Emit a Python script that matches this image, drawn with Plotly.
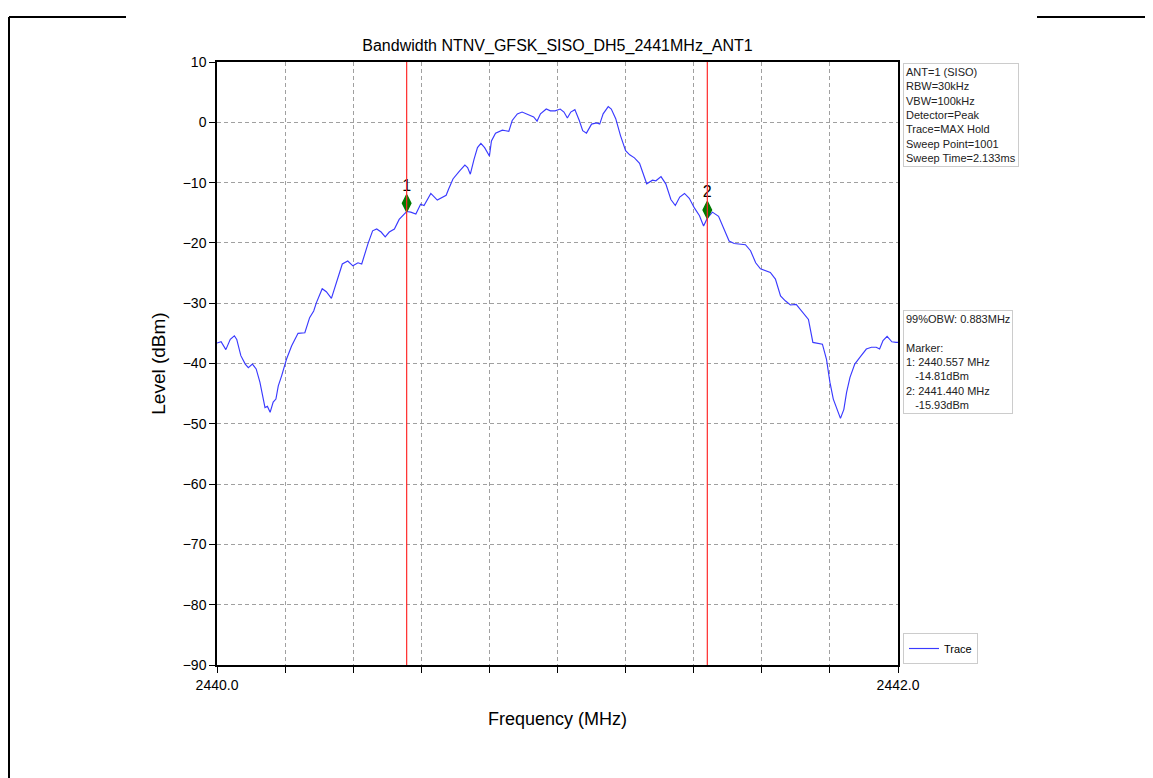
import plotly.graph_objects as go

# ---------------- data ----------------
freq_mhz = [
    2440.000, 2440.012, 2440.026, 2440.039, 2440.051, 2440.058, 2440.070, 2440.083, 2440.092, 2440.104,
    2440.115, 2440.126, 2440.141, 2440.148, 2440.156, 2440.165, 2440.173, 2440.180, 2440.190, 2440.204,
    2440.219, 2440.238, 2440.258, 2440.272, 2440.284, 2440.292, 2440.309, 2440.321, 2440.336, 2440.350,
    2440.368, 2440.384, 2440.399, 2440.414, 2440.425, 2440.443, 2440.457, 2440.469, 2440.482, 2440.494,
    2440.506, 2440.521, 2440.535, 2440.557, 2440.569, 2440.584, 2440.598, 2440.608, 2440.628, 2440.647,
    2440.662, 2440.673, 2440.680, 2440.693, 2440.712, 2440.728, 2440.736, 2440.744, 2440.755, 2440.765,
    2440.775, 2440.786, 2440.800, 2440.806, 2440.818, 2440.828, 2440.838, 2440.848, 2440.857, 2440.867,
    2440.882, 2440.896, 2440.916, 2440.930, 2440.940, 2440.950, 2440.967, 2440.979, 2440.993, 2441.008,
    2441.019, 2441.029, 2441.039, 2441.051, 2441.064, 2441.074, 2441.085, 2441.100, 2441.115, 2441.124,
    2441.134, 2441.149, 2441.158, 2441.171, 2441.185, 2441.200, 2441.212, 2441.226, 2441.241, 2441.251,
    2441.262, 2441.279, 2441.289, 2441.304, 2441.318, 2441.333, 2441.346, 2441.359, 2441.373, 2441.387,
    2441.402, 2441.417, 2441.429, 2441.440, 2441.455, 2441.473, 2441.490, 2441.504, 2441.519, 2441.533,
    2441.552, 2441.567, 2441.582, 2441.596, 2441.613, 2441.625, 2441.640, 2441.655, 2441.669, 2441.684,
    2441.701, 2441.713, 2441.725, 2441.737, 2441.750, 2441.764, 2441.778, 2441.790, 2441.800, 2441.810,
    2441.820, 2441.831, 2441.841, 2441.849, 2441.859, 2441.873, 2441.888, 2441.907, 2441.922, 2441.936,
    2441.946, 2441.956, 2441.968, 2441.982, 2441.994, 2442.000,
]
level_dbm = [
    -36.6, -36.4, -37.7, -36.0, -35.4, -36.0, -38.7, -40.1, -40.7, -40.1,
    -40.9, -43.1, -47.3, -47.1, -48.1, -46.4, -45.9, -43.7, -42.0, -39.3,
    -37.1, -35.0, -34.9, -32.4, -31.3, -29.9, -27.6, -28.1, -29.2, -26.6,
    -23.5, -23.0, -23.8, -23.3, -23.5, -20.2, -18.0, -17.7, -18.2, -19.0,
    -18.2, -17.7, -16.1, -14.8, -14.9, -15.2, -13.6, -13.8, -11.8, -12.9,
    -12.5, -12.1, -11.1, -9.4, -8.1, -7.1, -7.5, -8.6, -6.1, -4.2,
    -3.5, -4.2, -5.6, -3.1, -1.8, -1.5, -1.3, -1.4, -1.5, 0.3,
    1.4, 1.7, 1.3, 0.9, 0.2, 1.4, 2.2, 1.9, 1.9, 2.2,
    1.7, 0.7, 1.7, 2.1, 0.3, -1.4, -1.8, -0.3, -0.1, -0.3,
    1.4, 2.6, 2.2, 0.6, -2.2, -4.7, -5.4, -5.9, -6.8, -8.6,
    -10.2, -9.6, -9.7, -9.0, -10.2, -12.8, -13.8, -12.4, -11.8, -12.6,
    -14.2, -15.5, -17.2, -15.9, -14.9, -15.6, -18.0, -19.7, -20.1, -20.2,
    -20.3, -21.3, -23.3, -24.3, -24.6, -24.9, -26.0, -28.8, -29.6, -30.3,
    -30.2, -31.0, -31.8, -32.7, -36.5, -36.6, -36.8, -39.3, -43.1, -45.9,
    -47.6, -49.1, -47.6, -44.8, -42.3, -40.1, -39.0, -37.6, -37.3, -37.3,
    -37.6, -36.2, -35.5, -36.4, -36.5, -36.5,
]

marker_labels = ["1", "2"]
marker_freq = [2440.557, 2441.440]
marker_level = [-14.81, -15.93]
marker_offset_db = 1.4

obw_mhz = 0.883

x_tick_vals = [2440.0, 2440.2, 2440.4, 2440.6, 2440.8, 2441.0, 2441.2, 2441.4, 2441.6, 2441.8, 2442.0]
x_tick_text = ["2440.0", "", "", "", "", "", "", "", "", "", "2442.0"]
y_tick_vals = [10, 0, -10, -20, -30, -40, -50, -60, -70, -80, -90]
y_tick_text = ["10", "0", "\u221210", "\u221220", "\u221230", "\u221240", "\u221250",
               "\u221260", "\u221270", "\u221280", "\u221290"]

settings_lines = ["ANT=1 (SISO)", "RBW=30kHz", "VBW=100kHz", "Detector=Peak",
                  "Trace=MAX Hold", "Sweep Point=1001", "Sweep Time=2.133ms"]

title_text = "Bandwidth NTNV_GFSK_SISO_DH5_2441MHz_ANT1"

# ---------------- figure ----------------
OFF = 8                      # page body margin in the browser
W, H = 1153 - OFF, 778 - OFF
# plot area in page pixels
PL, PR, PT, PB = 217, 898, 62, 665
L, R, T, B = PL - OFF, PR - OFF, PT - OFF, PB - OFF
FONT = "Liberation Sans, Arial, sans-serif"

def px_x(p):
    return (p - PL) / (PR - PL)

def px_y(p):
    return (PB - p) / (PB - PT)

fig = go.Figure()

fig.add_trace(go.Scatter(
    x=freq_mhz, y=level_dbm, mode="lines", name="Trace",
    line=dict(color="#3a3aff", width=1.15), showlegend=True,
))

fig.add_trace(go.Scatter(
    x=marker_freq, y=[v + marker_offset_db for v in marker_level],
    mode="markers+text", text=marker_labels, textposition="top center",
    textfont=dict(family=FONT, size=16, color="black"),
    marker=dict(symbol="diamond-tall", size=12, color="#007a00",
                line=dict(color="#007a00", width=1.5)),
    showlegend=False, cliponaxis=False,
))

shapes = []
for f in marker_freq:
    shapes.append(dict(type="line", xref="x", yref="paper", x0=f, x1=f, y0=0, y1=1,
                       line=dict(color="#ff2a2a", width=1.2), layer="above"))

# page border lines
bw = dict(color="black", width=2)
shapes.append(dict(type="line", xref="paper", yref="paper",
                   x0=px_x(9), x1=px_x(9), y0=px_y(17), y1=px_y(790), line=bw))
shapes.append(dict(type="line", xref="paper", yref="paper",
                   x0=px_x(9), x1=px_x(126), y0=px_y(17), y1=px_y(17), line=bw))
shapes.append(dict(type="line", xref="paper", yref="paper",
                   x0=px_x(1037), x1=px_x(1160), y0=px_y(17), y1=px_y(17), line=bw))

marker_lines = "<br>".join(
    f"{lab}: {f:.3f} MHz<br>&nbsp;&nbsp;&nbsp;{v:.2f}dBm"
    for lab, f, v in zip(marker_labels, marker_freq, marker_level)
)
box2_text = f"99%OBW: {obw_mhz:.3f}MHz<br> <br>Marker:<br>" + marker_lines

annotations = [
    dict(xref="paper", yref="paper", x=px_x(903), y=px_y(63), xanchor="left", yanchor="top",
         text="<br>".join(settings_lines), showarrow=False, align="left",
         font=dict(family=FONT, size=11, color="#222"),
         bordercolor="#cccccc", borderwidth=1, borderpad=2, bgcolor="white"),
    dict(xref="paper", yref="paper", x=px_x(903), y=px_y(310), xanchor="left", yanchor="top",
         text=box2_text, showarrow=False, align="left",
         font=dict(family=FONT, size=11, color="#222"),
         bordercolor="#cccccc", borderwidth=1, borderpad=2, bgcolor="white"),
]

grid = dict(showgrid=True, gridcolor="#a0a0a0", gridwidth=0.8, griddash="4px,3px")

fig.update_layout(
    width=W, height=H,
    margin=dict(l=L, r=W - R, t=T, b=H - B, autoexpand=False),
    paper_bgcolor="white", plot_bgcolor="white",
    font=dict(family=FONT, size=13, color="black"),
    title=dict(text=title_text, x=0.5, xref="paper", xanchor="center",
               y=1 - (45 - OFF) / H, yref="container", yanchor="middle",
               font=dict(family=FONT, size=16, color="black")),
    xaxis=dict(range=[2440.0, 2442.0], tickmode="array", tickvals=x_tick_vals, ticktext=x_tick_text,
               ticks="outside", ticklen=6, tickwidth=1.2, tickcolor="black",
               showline=True, linecolor="black", linewidth=1.5, mirror=True, zeroline=False,
               title=dict(text="Frequency (MHz)", font=dict(family=FONT, size=18), standoff=21),
               tickfont=dict(family=FONT, size=14), **grid),
    yaxis=dict(range=[-90, 10], tickmode="array", tickvals=y_tick_vals, ticktext=y_tick_text,
               ticks="outside", ticklen=6, tickwidth=1.2, tickcolor="black",
               showline=True, linecolor="black", linewidth=1.5, mirror=True, zeroline=False,
               title=dict(text="Level (dBm)", font=dict(family=FONT, size=19), standoff=12),
               tickfont=dict(family=FONT, size=14), **grid),
    legend=dict(x=px_x(903), y=px_y(664), xanchor="left", yanchor="bottom",
                bordercolor="#cccccc", borderwidth=1, bgcolor="white",
                font=dict(family=FONT, size=11), itemwidth=30),
    shapes=shapes,
    annotations=annotations,
    showlegend=True,
)

fig.write_html("out.html")
